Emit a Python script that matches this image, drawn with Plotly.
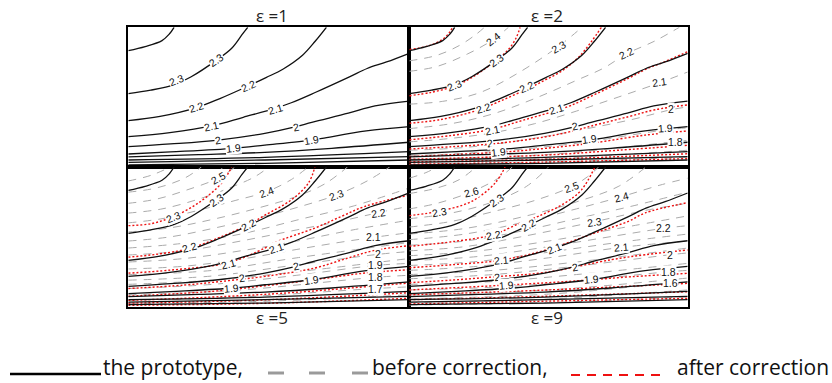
import plotly.graph_objects as go

# ---------------------------------------------------------------
# Contour lines, panel coordinates: u = 0..1 left->right, v = 0..1 bottom->top
# ---------------------------------------------------------------

# prototype (solid black) - the same field in all four panels
proto = {
    "2.4": [(0, 0.833), (0.06, 0.862), (0.12, 0.905), (0.146, 0.952), (0.163, 1.0)],
    "2.3": [(0, 0.525), (0.08, 0.55), (0.164, 0.59), (0.224, 0.646), (0.314, 0.765),
            (0.368, 0.85), (0.404, 0.945), (0.425, 1.0)],
    "2.2": [(0, 0.332), (0.113, 0.362), (0.243, 0.425), (0.326, 0.49), (0.427, 0.58),
            (0.49, 0.64), (0.55, 0.70), (0.62, 0.80), (0.665, 0.90), (0.705, 1.0)],
    "2.1": [(0, 0.217), (0.148, 0.246), (0.297, 0.294), (0.409, 0.356), (0.522, 0.42),
            (0.58, 0.46), (0.667, 0.535), (0.787, 0.645), (0.85, 0.705), (0.919, 0.752),
            (1.0, 0.814)],
    "2.0": [(0, 0.146), (0.15, 0.165), (0.32, 0.193), (0.486, 0.241), (0.597, 0.289),
            (0.653, 0.32), (0.783, 0.385), (0.878, 0.437), (1.0, 0.472)],
    "1.9": [(0, 0.093), (0.15, 0.108), (0.374, 0.134), (0.486, 0.157), (0.653, 0.193),
            (0.69, 0.205), (0.847, 0.258), (1.0, 0.289)],
    "1.8": [(0, 0.072), (0.25, 0.088), (0.486, 0.105), (0.724, 0.134), (1.0, 0.177)],
    "1.7": [(0, 0.05), (0.486, 0.069), (1.0, 0.11)],
    "1.6": [(0, 0.033), (0.486, 0.05), (1.0, 0.074)],
    "1.5": [(0, 0.015), (0.486, 0.026), (1.0, 0.05)],
}

# ---- eps = 2 ----
before_eps2 = {
    "2.45": [(0, 0.76), (0.1, 0.80), (0.18, 0.87), (0.24, 0.95), (0.27, 1.0)],
    "2.4": [(0, 0.685), (0.1, 0.72), (0.21, 0.81), (0.30, 0.91), (0.356, 1.0)],
    "2.3": [(0, 0.45), (0.12, 0.47), (0.25, 0.53), (0.38, 0.66), (0.535, 0.862), (0.62, 1.0)],
    "2.2": [(0, 0.275), (0.15, 0.31), (0.3, 0.38), (0.45, 0.49), (0.6, 0.62), (0.7, 0.71),
            (0.78, 0.81), (0.88, 0.90), (0.97, 1.0)],
    "2.1": [(0, 0.18), (0.15, 0.205), (0.3, 0.245), (0.45, 0.31), (0.6, 0.40), (0.75, 0.50),
            (0.895, 0.60), (1.0, 0.68)],
    "2.0": [(0, 0.12), (0.2, 0.14), (0.4, 0.19), (0.6, 0.26), (0.8, 0.34), (0.94, 0.41),
            (1.0, 0.43)],
    "1.9": [(0, 0.08), (0.3, 0.11), (0.6, 0.17), (0.918, 0.265), (1.0, 0.28)],
    "1.8": [(0, 0.055), (0.5, 0.09), (0.948, 0.18), (1.0, 0.19)],
    "1.7": [(0, 0.035), (0.5, 0.06), (1.0, 0.12)],
    "1.6": [(0, 0.018), (0.5, 0.035), (1.0, 0.07)],
}
after_eps2 = {
    "2.4": [(0, 0.84), (0.07, 0.868), (0.12, 0.915), (0.145, 0.965), (0.155, 1.0)],
    "2.3": [(0, 0.51), (0.08, 0.535), (0.164, 0.58), (0.224, 0.64), (0.31, 0.76),
            (0.36, 0.85), (0.385, 0.93), (0.398, 1.0)],
    "2.2": [(0, 0.313), (0.113, 0.34), (0.243, 0.405), (0.33, 0.475), (0.43, 0.565),
            (0.49, 0.625), (0.55, 0.69), (0.61, 0.79), (0.655, 0.9), (0.69, 1.0)],
    "2.1": [(0, 0.195), (0.148, 0.225), (0.297, 0.27), (0.409, 0.335), (0.522, 0.40),
            (0.58, 0.44), (0.667, 0.52), (0.787, 0.635), (0.85, 0.70), (0.919, 0.755),
            (1.0, 0.826)],
    "2.0": [(0, 0.129), (0.15, 0.145), (0.32, 0.17), (0.486, 0.215), (0.597, 0.262),
            (0.653, 0.293), (0.787, 0.36), (0.883, 0.41), (1.0, 0.444)],
    "1.9": [(0, 0.074), (0.15, 0.088), (0.374, 0.112), (0.486, 0.133), (0.653, 0.17),
            (0.847, 0.228), (1.0, 0.258)],
    "1.8": [(0, 0.055), (0.486, 0.085), (0.75, 0.12), (1.0, 0.155)],
    "1.7": [(0, 0.037), (0.486, 0.055), (1.0, 0.095)],
    "1.6": [(0, 0.02), (0.486, 0.035), (1.0, 0.06)],
}

# ---- eps = 5 ----
before_eps5 = {
    "2.6": [(0, 0.90), (0.08, 0.94), (0.15, 1.0)],
    "2.55": [(0, 0.82), (0.1, 0.85), (0.2, 0.92), (0.26, 1.0)],
    "2.5": [(0, 0.74), (0.1, 0.77), (0.2, 0.83), (0.32, 0.92), (0.38, 1.0)],
    "2.45": [(0, 0.67), (0.12, 0.70), (0.25, 0.77), (0.36, 0.85), (0.45, 0.93), (0.5, 1.0)],
    "2.4": [(0, 0.60), (0.12, 0.63), (0.25, 0.69), (0.38, 0.76), (0.492, 0.823), (0.58, 0.91),
            (0.64, 1.0)],
    "2.35": [(0, 0.535), (0.15, 0.565), (0.3, 0.625), (0.45, 0.70), (0.6, 0.79), (0.7, 0.88),
             (0.78, 1.0)],
    "2.3": [(0, 0.47), (0.15, 0.50), (0.3, 0.56), (0.45, 0.63), (0.6, 0.71), (0.741, 0.80),
            (0.85, 0.90), (0.93, 1.0)],
    "2.25": [(0, 0.42), (0.2, 0.455), (0.4, 0.52), (0.6, 0.62), (0.8, 0.72), (1.0, 0.85)],
    "2.2": [(0, 0.37), (0.2, 0.40), (0.4, 0.47), (0.6, 0.55), (0.75, 0.61), (0.89, 0.673),
            (1.0, 0.72)],
    "2.15": [(0, 0.32), (0.2, 0.345), (0.4, 0.40), (0.6, 0.47), (0.8, 0.55), (1.0, 0.62)],
    "2.1": [(0, 0.27), (0.2, 0.29), (0.4, 0.34), (0.6, 0.41), (0.75, 0.46), (0.872, 0.496),
            (1.0, 0.53)],
    "2.05": [(0, 0.23), (0.3, 0.26), (0.6, 0.35), (1.0, 0.46)],
    "2.0": [(0, 0.19), (0.3, 0.22), (0.6, 0.30), (0.89, 0.375), (1.0, 0.395)],
    "1.95": [(0, 0.16), (0.3, 0.19), (0.6, 0.25), (1.0, 0.345)],
    "1.9": [(0, 0.13), (0.3, 0.16), (0.6, 0.225), (0.878, 0.295), (1.0, 0.31)],
    "1.8": [(0, 0.085), (0.4, 0.12), (0.878, 0.21), (1.0, 0.225)],
    "1.7": [(0, 0.045), (0.4, 0.07), (0.878, 0.13), (1.0, 0.142)],
    "1.6": [(0, 0.022), (0.5, 0.04), (1.0, 0.085)],
}
after_eps5 = {
    "2.3": [(0, 0.58), (0.083, 0.595), (0.16, 0.645), (0.249, 0.742), (0.332, 0.885),
            (0.368, 1.0)],
    "2.2": [(0, 0.355), (0.1, 0.375), (0.214, 0.415), (0.33, 0.50), (0.43, 0.59),
            (0.486, 0.655), (0.581, 0.766), (0.641, 0.885), (0.664, 1.0)],
    "2.1": [(0, 0.24), (0.15, 0.262), (0.356, 0.315), (0.486, 0.42), (0.522, 0.46),
            (0.664, 0.563), (0.759, 0.647), (0.842, 0.718), (1.0, 0.80)],
    "2.0": [(0, 0.13), (0.2, 0.155), (0.35, 0.185), (0.486, 0.217), (0.664, 0.277),
            (0.783, 0.349), (0.878, 0.404), (1.0, 0.437)],
    "1.9": [(0, 0.075), (0.3, 0.11), (0.486, 0.15), (0.664, 0.193), (0.842, 0.241),
            (1.0, 0.265)],
    "1.8": [(0, 0.045), (0.5, 0.09), (1.0, 0.17)],
    "1.7": [(0, 0.025), (0.5, 0.05), (1.0, 0.10)],
    "1.6": [(0, 0.01), (0.5, 0.025), (1.0, 0.06)],
}

# ---- eps = 9 ----
before_eps9 = {
    "2.7": [(0, 0.92), (0.06, 0.96), (0.1, 1.0)],
    "2.65": [(0, 0.81), (0.1, 0.85), (0.18, 0.91), (0.24, 1.0)],
    "2.6": [(0, 0.70), (0.1, 0.74), (0.224, 0.823), (0.32, 0.92), (0.37, 1.0)],
    "2.55": [(0, 0.63), (0.15, 0.67), (0.3, 0.75), (0.42, 0.86), (0.5, 1.0)],
    "2.5": [(0, 0.57), (0.15, 0.61), (0.3, 0.68), (0.45, 0.76), (0.583, 0.859), (0.64, 0.93),
            (0.68, 1.0)],
    "2.45": [(0, 0.52), (0.2, 0.56), (0.4, 0.64), (0.6, 0.75), (0.75, 0.86), (0.85, 1.0)],
    "2.4": [(0, 0.48), (0.2, 0.52), (0.4, 0.60), (0.6, 0.70), (0.763, 0.788), (0.9, 0.87),
            (1.0, 0.92)],
    "2.35": [(0, 0.44), (0.2, 0.47), (0.4, 0.54), (0.6, 0.63), (0.8, 0.72), (1.0, 0.82)],
    "2.3": [(0, 0.40), (0.2, 0.43), (0.4, 0.50), (0.667, 0.609), (0.85, 0.69), (1.0, 0.74)],
    "2.25": [(0, 0.365), (0.25, 0.40), (0.5, 0.47), (0.75, 0.56), (1.0, 0.65)],
    "2.2": [(0, 0.33), (0.25, 0.36), (0.5, 0.43), (0.75, 0.51), (0.913, 0.561), (1.0, 0.58)],
    "2.15": [(0, 0.295), (0.25, 0.325), (0.5, 0.39), (0.75, 0.46), (1.0, 0.52)],
    "2.1": [(0, 0.26), (0.25, 0.29), (0.5, 0.35), (0.763, 0.425), (1.0, 0.47)],
    "2.05": [(0, 0.23), (0.3, 0.26), (0.6, 0.32), (1.0, 0.42)],
    "2.0": [(0, 0.20), (0.3, 0.23), (0.6, 0.29), (0.937, 0.372), (1.0, 0.385)],
    "1.9": [(0, 0.16), (0.3, 0.18), (0.6, 0.23), (1.0, 0.31)],
    "1.8": [(0, 0.12), (0.4, 0.15), (0.93, 0.25), (1.0, 0.26)],
    "1.7": [(0, 0.085), (0.5, 0.12), (1.0, 0.205)],
    "1.6": [(0, 0.055), (0.5, 0.09), (0.937, 0.167), (1.0, 0.175)],
    "1.5": [(0, 0.03), (0.5, 0.055), (1.0, 0.12)],
    "1.4": [(0, 0.012), (0.5, 0.03), (1.0, 0.07)],
}
after_eps9 = {
    "2.3": [(0, 0.652), (0.11, 0.685), (0.224, 0.754), (0.308, 0.885), (0.344, 1.0)],
    "2.2": [(0, 0.432), (0.164, 0.468), (0.30, 0.515), (0.40, 0.60), (0.463, 0.647),
            (0.559, 0.742), (0.619, 0.838), (0.667, 1.0)],
    "2.1": [(0, 0.279), (0.15, 0.30), (0.332, 0.334), (0.487, 0.404), (0.667, 0.528),
            (0.787, 0.611), (0.847, 0.671), (1.0, 0.745)],
    "2.0": [(0, 0.172), (0.15, 0.19), (0.314, 0.215), (0.487, 0.245), (0.727, 0.337),
            (0.847, 0.372), (1.0, 0.406)],
    "1.9": [(0, 0.12), (0.35, 0.155), (0.6, 0.185), (0.8, 0.215), (1.0, 0.239)],
    "1.8": [(0, 0.085), (0.5, 0.12), (1.0, 0.167)],
    "1.7": [(0, 0.05), (0.5, 0.075), (1.0, 0.107)],
    "1.6": [(0, 0.02), (0.5, 0.04), (1.0, 0.06)],
}

# ---- contour labels: (text, u, v, rotation in degrees) ----
labels_eps1 = [
    ("2.3", 0.172, 0.623, -22), ("2.3", 0.313, 0.763, -35),
    ("2.2", 0.243, 0.427, -17), ("2.2", 0.427, 0.58, -24),
    ("2.1", 0.297, 0.294, -12), ("2.1", 0.524, 0.417, -17),
    ("2", 0.32, 0.193, -8), ("2", 0.597, 0.289, -12),
    ("1.9", 0.374, 0.134, -6), ("1.9", 0.653, 0.195, -10),
]
labels_eps2 = [
    ("2.4", 0.302, 0.914, -38), ("2.3", 0.164, 0.587, -22), ("2.3", 0.314, 0.766, -35),
    ("2.3", 0.535, 0.862, -30), ("2.2", 0.266, 0.42, -17), ("2.2", 0.42, 0.575, -24),
    ("2.2", 0.781, 0.814, -25), ("2.1", 0.30, 0.265, -12), ("2.1", 0.529, 0.413, -17),
    ("2.1", 0.90, 0.611, -8), ("2", 0.29, 0.17, -8), ("2", 0.595, 0.292, -12),
    ("2", 0.94, 0.413, 0), ("1.9", 0.32, 0.11, -6), ("1.9", 0.649, 0.198, -8),
    ("1.9", 0.919, 0.277, -4), ("1.8", 0.957, 0.181, 0),
]
labels_eps5 = [
    ("2.5", 0.32, 0.919, -30), ("2.3", 0.16, 0.64, -22), ("2.3", 0.314, 0.764, -35),
    ("2.4", 0.492, 0.823, -20), ("2.3", 0.741, 0.80, -20), ("2.2", 0.89, 0.673, -8),
    ("2.2", 0.219, 0.425, -15), ("2.2", 0.427, 0.585, -28), ("2.1", 0.356, 0.305, -15),
    ("2.1", 0.528, 0.418, -18), ("2.1", 0.872, 0.496, 0), ("2", 0.597, 0.291, -12),
    ("2", 0.403, 0.203, -8), ("2", 0.89, 0.375, 0), ("1.9", 0.368, 0.131, -5),
    ("1.9", 0.652, 0.191, -8), ("1.9", 0.878, 0.295, 0), ("1.8", 0.878, 0.21, 0),
    ("1.7", 0.878, 0.13, 0),
]
labels_eps9 = [
    ("2.6", 0.224, 0.823, -15), ("2.3", 0.11, 0.68, -10), ("2.3", 0.314, 0.764, -35),
    ("2.5", 0.583, 0.859, -20), ("2.4", 0.763, 0.788, -15), ("2.2", 0.302, 0.513, -10),
    ("2.2", 0.428, 0.585, -30), ("2.3", 0.667, 0.609, -8), ("2.2", 0.913, 0.561, 0),
    ("2.1", 0.332, 0.334, -5), ("2.1", 0.523, 0.418, -22), ("2.1", 0.763, 0.425, -5),
    ("2", 0.937, 0.37, 0), ("2", 0.595, 0.286, -10), ("2", 0.314, 0.215, -5),
    ("1.9", 0.35, 0.155, -5), ("1.9", 0.655, 0.196, -5), ("1.8", 0.93, 0.25, 0),
    ("1.6", 0.937, 0.167, 0),
]

titles = ["ε =1", "ε =2", "ε =5", "ε =9"]
legend_texts = ["the prototype,", "before correction,", "after correction"]

# ---------------------------------------------------------------
W, H = 832, 383
XL, XM, XR = 128.3, 409.3, 687.7       # panel edges (px)
YT, YM, YB = 27.3, 167.0, 306.7


def px(x):
    return x / W


def py(y):
    return 1 - y / H


panels = [
    # title, before, after, labels, x-domain, y-domain, title xy (px)
    (titles[0], {}, {}, labels_eps1, (XL, XM), (YM, YT), (271.7, 16.0)),
    (titles[1], before_eps2, after_eps2, labels_eps2, (XM, XR), (YM, YT), (546.7, 16.0)),
    (titles[2], before_eps5, after_eps5, labels_eps5, (XL, XM), (YB, YM), (271.7, 317.5)),
    (titles[3], before_eps9, after_eps9, labels_eps9, (XM, XR), (YB, YM), (546.7, 317.5)),
]

GRAY = "#ababab"
RED = "#ee1111"

fig = go.Figure()
annotations = []
layout_axes = {}

for i, (title, before, after, labels, xd, yd, tpos) in enumerate(panels):
    n = "" if i == 0 else str(i + 1)
    xa, ya = "x" + n, "y" + n
    layout_axes["xaxis" + n] = dict(
        domain=[px(xd[0]), px(xd[1])], range=[0, 1], anchor=ya,
        showgrid=False, zeroline=False, showticklabels=False, ticks="",
        showline=True, mirror=True, linecolor="black", linewidth=1.6, fixedrange=True)
    layout_axes["yaxis" + n] = dict(
        domain=[py(yd[0]), py(yd[1])], range=[0, 1], anchor=xa,
        showgrid=False, zeroline=False, showticklabels=False, ticks="",
        showline=True, mirror=True, linecolor="black", linewidth=1.6, fixedrange=True)

    for lv, pts in before.items():
        fig.add_trace(go.Scatter(
            x=[p[0] for p in pts], y=[p[1] for p in pts], xaxis=xa, yaxis=ya,
            mode="lines", line=dict(color=GRAY, width=1, dash="8px,7px", shape="spline"),
            hoverinfo="skip", showlegend=False))
    for lv, pts in after.items():
        fig.add_trace(go.Scatter(
            x=[p[0] for p in pts], y=[p[1] for p in pts], xaxis=xa, yaxis=ya,
            mode="lines", line=dict(color=RED, width=1.4, dash="2px,2px", shape="spline"),
            hoverinfo="skip", showlegend=False))
    for lv, pts in proto.items():
        fig.add_trace(go.Scatter(
            x=[p[0] for p in pts], y=[p[1] for p in pts], xaxis=xa, yaxis=ya,
            mode="lines", line=dict(color="#111111", width=1.3, shape="spline"),
            hoverinfo="skip", showlegend=False))

    for t, u, v, ang in labels:
        annotations.append(dict(
            x=u, y=v, xref=xa, yref=ya, text=t, textangle=ang, showarrow=False,
            font=dict(family="Liberation Sans, Arial, sans-serif", size=10.5, color="#111111"),
            bgcolor="white", borderpad=0))

    annotations.append(dict(
        x=px(tpos[0]), y=py(tpos[1]), xref="paper", yref="paper", text=title,
        showarrow=False, xanchor="center", yanchor="middle",
        font=dict(family="Open Sans, sans-serif", size=17, color="#222222")))

# ---- legend (drawn below the panels) ----
shapes = [
    dict(type="line", xref="paper", yref="paper", x0=px(10), x1=px(101),
         y0=py(374), y1=py(374), line=dict(color="black", width=2.5)),
    dict(type="line", xref="paper", yref="paper", x0=px(571), x1=px(667),
         y0=py(375), y1=py(375), line=dict(color=RED, width=1.8, dash="9px,7px")),
]
for a, b in [(268, 284), (309, 325), (352, 368)]:
    shapes.append(dict(type="line", xref="paper", yref="paper", x0=px(a), x1=px(b),
                       y0=py(373), y1=py(373), line=dict(color="#9a9a9a", width=3)))

for t, x0 in zip(legend_texts, [101, 370, 675]):
    annotations.append(dict(
        x=px(x0), y=py(367), xref="paper", yref="paper", text=t, showarrow=False,
        xanchor="left", yanchor="middle",
        font=dict(family="Open Sans, sans-serif", size=21, color="#111111")))

fig.update_layout(
    width=W, height=H, margin=dict(l=0, r=0, t=0, b=0),
    paper_bgcolor="white", plot_bgcolor="white",
    showlegend=False, annotations=annotations, shapes=shapes, **layout_axes)

fig.write_html("out.html")
